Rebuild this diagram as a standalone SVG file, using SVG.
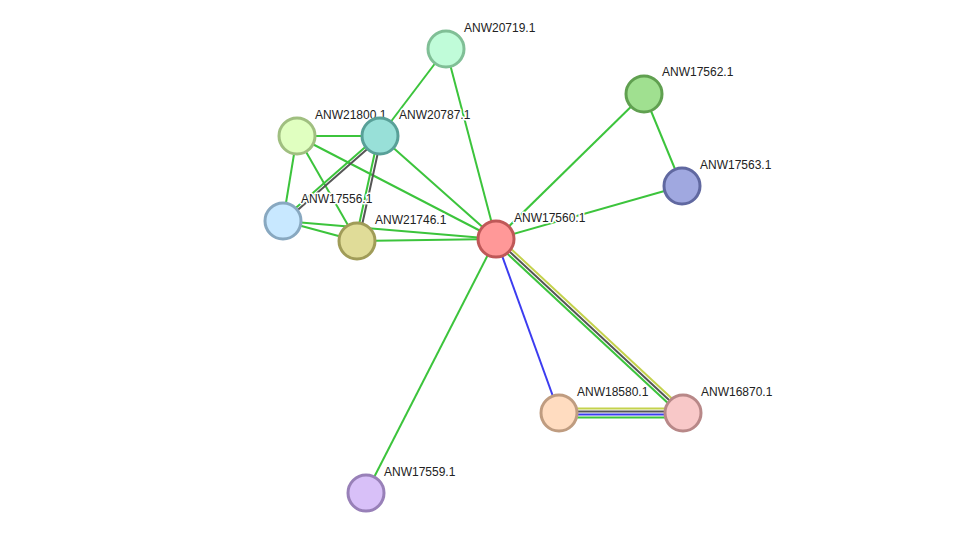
<svg xmlns="http://www.w3.org/2000/svg" width="975" height="539" viewBox="0 0 975 539">
<style>
.e{fill:none;stroke-width:2}
.g{stroke:#3cc43c}
.y{stroke:#c4d24c}
.k{stroke:#555555}
.b{stroke:#3c3cf0}
.n circle{stroke-width:3}
.n text{font-family:"Liberation Sans",Arial,sans-serif;font-size:12px;fill:#222;stroke:#fff;stroke-width:3;paint-order:stroke;stroke-linejoin:round}
</style>
<rect width="975" height="539" fill="#fff"/>
<g id="edges">
<line class="e g" x1="446" y1="49" x2="380" y2="136"/>
<line class="e g" x1="446" y1="49" x2="496" y2="239"/>
<line class="e g" x1="644" y1="94" x2="496" y2="239"/>
<line class="e g" x1="644" y1="94" x2="682" y2="186"/>
<line class="e g" x1="682" y1="186" x2="496" y2="239"/>
<line class="e g" x1="297" y1="136" x2="380" y2="136"/>
<line class="e g" x1="297" y1="136" x2="283" y2="221"/>
<line class="e g" x1="297" y1="136" x2="357" y2="241"/>
<line class="e g" x1="297" y1="136" x2="496" y2="239"/>
<line class="e g" x1="379" y1="134.9" x2="282" y2="219.9"/>
<line class="e k" x1="381" y1="137.1" x2="284" y2="222.1"/>
<line class="e g" x1="378.5" y1="135.7" x2="355.5" y2="240.7"/>
<line class="e k" x1="381.5" y1="136.3" x2="358.5" y2="241.3"/>
<line class="e g" x1="380" y1="136" x2="496" y2="239"/>
<line class="e g" x1="283" y1="221" x2="357" y2="241"/>
<line class="e g" x1="283" y1="221" x2="496" y2="239"/>
<line class="e g" x1="357" y1="241" x2="496" y2="239"/>
<line class="e g" x1="496" y1="239" x2="366" y2="493"/>
<line class="e b" x1="496" y1="239" x2="559" y2="413"/>
<line class="e y" x1="498.04" y1="236.8" x2="685.04" y2="410.8"/>
<line class="e k" x1="496" y1="239" x2="683" y2="413"/>
<line class="e g" x1="493.96" y1="241.2" x2="680.96" y2="415.2"/>
<line class="e y" x1="559" y1="408.5" x2="683" y2="408.5"/>
<line class="e k" x1="559" y1="411.5" x2="683" y2="411.5"/>
<line class="e b" x1="559" y1="414.5" x2="683" y2="414.5"/>
<line class="e g" x1="559" y1="417.5" x2="683" y2="417.5"/>
</g>
<g id="ANW20719.1" class="n"><circle cx="446" cy="49" r="18" fill="#c0fcd9" stroke="#80bf96"/><text x="464" y="32">ANW20719.1</text></g>
<g id="ANW17562.1" class="n"><circle cx="644" cy="94" r="18" fill="#a0e090" stroke="#60a050"/><text x="662" y="76">ANW17562.1</text></g>
<g id="ANW21800.1" class="n"><circle cx="297" cy="136" r="18" fill="#e0ffc0" stroke="#a0bf80"/><text x="315" y="119">ANW21800.1</text></g>
<g id="ANW20787.1" class="n"><circle cx="380" cy="136" r="18" fill="#98e0d8" stroke="#58a098"/><text x="399" y="119">ANW20787.1</text></g>
<g id="ANW17563.1" class="n"><circle cx="682" cy="186" r="18" fill="#a0a8e0" stroke="#6068a0"/><text x="700" y="169">ANW17563.1</text></g>
<g id="ANW17556.1" class="n"><circle cx="283" cy="221" r="18" fill="#c8e8ff" stroke="#88a8c0"/><text x="301" y="203">ANW17556.1</text></g>
<g id="ANW21746.1" class="n"><circle cx="357" cy="241" r="18" fill="#e0dc98" stroke="#a09c58"/><text x="375" y="224">ANW21746.1</text></g>
<g id="ANW17560.1" class="n"><circle cx="496" cy="239" r="18" fill="#ff9898" stroke="#bf5858"/><text x="514" y="222">ANW17560.1</text></g>
<g id="ANW18580.1" class="n"><circle cx="559" cy="413" r="18" fill="#ffdcc0" stroke="#bf9c80"/><text x="577" y="396">ANW18580.1</text></g>
<g id="ANW16870.1" class="n"><circle cx="683" cy="413" r="18" fill="#f8c8c8" stroke="#b88888"/><text x="701" y="396">ANW16870.1</text></g>
<g id="ANW17559.1" class="n"><circle cx="366" cy="493" r="18" fill="#d8c0f8" stroke="#9880b8"/><text x="384" y="476">ANW17559.1</text></g>
</svg>
